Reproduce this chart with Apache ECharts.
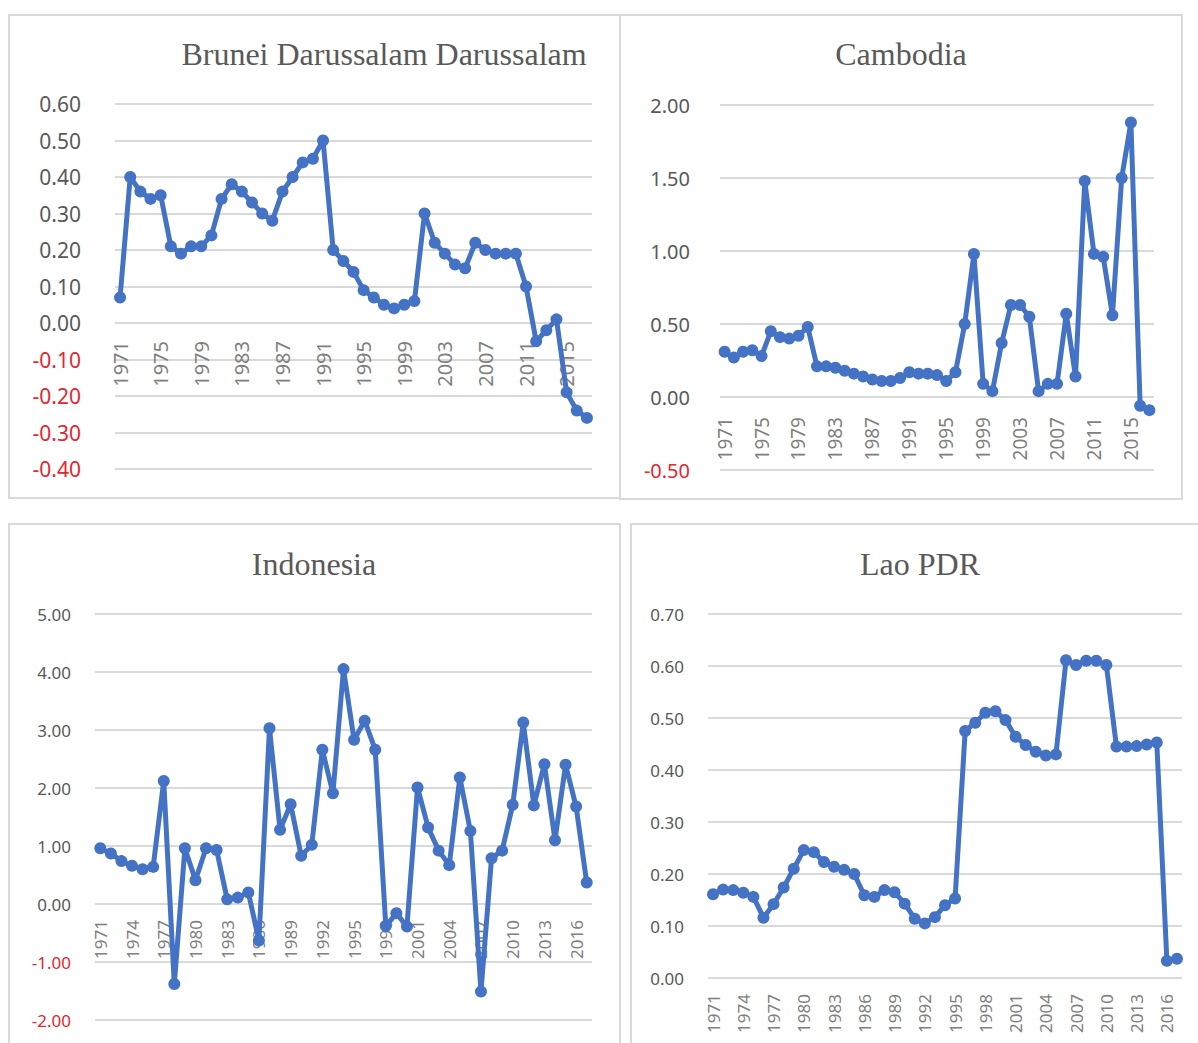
<!DOCTYPE html>
<html>
<head>
<meta charset="utf-8">
<script src="https://cdn.jsdelivr.net/npm/echarts@6/dist/echarts.min.js"></script>
<style>
html,body{margin:0;padding:0;background:#fff;}
#c{width:1198px;height:1043px;}
</style>
</head>
<body>
<div id="c"></div>
<script>
// ---- data ----
const years = ['1971','1972','1973','1974','1975','1976','1977','1978','1979','1980',
  '1981','1982','1983','1984','1985','1986','1987','1988','1989','1990',
  '1991','1992','1993','1994','1995','1996','1997','1998','1999','2000',
  '2001','2002','2003','2004','2005','2006','2007','2008','2009','2010',
  '2011','2012','2013','2014','2015','2016','2017'];

const titles = ['Brunei Darussalam Darussalam', 'Cambodia', 'Indonesia', 'Lao PDR'];

const brunei = [0.07,0.40,0.36,0.34,0.35,0.21,0.19,0.21,0.21,0.24,
  0.34,0.38,0.36,0.33,0.30,0.28,0.36,0.40,0.44,0.45,
  0.50,0.20,0.17,0.14,0.09,0.07,0.05,0.04,0.05,0.06,
  0.30,0.22,0.19,0.16,0.15,0.22,0.20,0.19,0.19,0.19,
  0.10,-0.05,-0.02,0.01,-0.19,-0.24,-0.26];

const cambodia = [0.31,0.27,0.31,0.32,0.28,0.45,0.41,0.40,0.42,0.48,
  0.21,0.21,0.20,0.18,0.16,0.14,0.12,0.11,0.11,0.13,
  0.17,0.16,0.16,0.15,0.11,0.17,0.50,0.98,0.09,0.04,
  0.37,0.63,0.63,0.55,0.04,0.09,0.09,0.57,0.14,1.48,
  0.98,0.96,0.56,1.50,1.88,-0.06,-0.09];

const indonesia = [0.96,0.87,0.74,0.66,0.60,0.64,2.12,-1.38,0.96,0.41,
  0.96,0.93,0.08,0.11,0.20,-0.63,3.03,1.28,1.72,0.83,
  1.02,2.66,1.91,4.05,2.83,3.16,2.66,-0.38,-0.16,-0.39,
  2.01,1.32,0.92,0.67,2.18,1.26,-1.51,0.79,0.92,1.71,
  3.13,1.70,2.41,1.10,2.40,1.68,0.37];

const lao = [0.161,0.170,0.169,0.164,0.156,0.116,0.142,0.174,0.210,0.246,
  0.242,0.223,0.214,0.208,0.200,0.159,0.156,0.169,0.165,0.143,
  0.114,0.105,0.117,0.140,0.153,0.475,0.491,0.510,0.513,0.496,
  0.464,0.448,0.435,0.428,0.430,0.611,0.602,0.610,0.610,0.602,
  0.445,0.445,0.446,0.449,0.453,0.033,0.037];

const yMin = [-0.4, -0.5, -2, 0];
const yMax = [0.6, 2, 5, 0.7];
const yStep = [0.1, 0.5, 1, 0.1];
const labelEvery = [3, 3, 2, 2];

// ---- layout ----
const seriesData = [brunei, cambodia, indonesia, lao];
const grids = [
  {left: 115, top: 104, width: 477, height: 365},
  {left: 720, top: 105, width: 434, height: 365},
  {left: 95, top: 614, width: 497, height: 406},
  {left: 708, top: 614, width: 474, height: 364}
];
// label grids end where the value 0 lies, so the year labels sit under the zero line
const labelGrids = grids.map((g, i) => ({
  left: g.left, width: g.width, top: g.top,
  height: g.height * yMax[i] / (yMax[i] - yMin[i])
}));
const titlePos = [[384, 38], [901, 38], [314, 548], [920, 548]];
const yFont = [21, 20, 17, 17];
const xFont = [20, 19, 17, 17];
const yMargin = [34, 30, 24, 24];
const xMargin = [18, 20, 16, 16];

const BLUE = '#4472C4';
const GRIDC = '#d9d9d9';
const allGrids = grids.concat(labelGrids);

const option = {
  animation: false,
  backgroundColor: '#ffffff',
  title: titles.map((t, i) => ({
    text: t, left: titlePos[i][0], top: titlePos[i][1], textAlign: 'center', padding: 0,
    textStyle: {fontFamily: 'Liberation Serif', fontSize: 32, fontWeight: 'normal', color: '#595959'}
  })),
  graphic: [
    {type: 'rect', shape: {x: 9, y: 15, width: 611, height: 483}, style: {fill: 'none', stroke: GRIDC, lineWidth: 2}, silent: true},
    {type: 'rect', shape: {x: 620, y: 15, width: 562, height: 484}, style: {fill: 'none', stroke: GRIDC, lineWidth: 2}, silent: true},
    {type: 'rect', shape: {x: 9, y: 524, width: 611, height: 540}, style: {fill: 'none', stroke: GRIDC, lineWidth: 2}, silent: true},
    {type: 'rect', shape: {x: 631, y: 524, width: 580, height: 540}, style: {fill: 'none', stroke: GRIDC, lineWidth: 2}, silent: true}
  ],
  grid: allGrids.map(g => Object.assign({containLabel: false, outerBoundsMode: 'none'}, g)),
  xAxis: grids.map((g, i) => ({
    type: 'category', gridIndex: i, data: years, boundaryGap: true,
    axisLine: {show: false}, axisTick: {show: false}, splitLine: {show: false},
    axisLabel: {show: false}
  })).concat(labelGrids.map((g, i) => ({
    type: 'category', gridIndex: i + 4, data: years, boundaryGap: true,
    axisLine: {show: false}, axisTick: {show: false}, splitLine: {show: false},
    axisLabel: {
      interval: labelEvery[i], rotate: 90, margin: xMargin[i],
      fontFamily: 'Noto Sans', fontSize: xFont[i], color: '#7f7f7f'
    }
  }))),
  yAxis: grids.map((g, i) => ({
    type: 'value', gridIndex: i, min: yMin[i], max: yMax[i], interval: yStep[i],
    axisLine: {show: false}, axisTick: {show: false},
    splitLine: {show: true, lineStyle: {color: GRIDC, width: 2}},
    axisLabel: {
      margin: yMargin[i], fontFamily: 'Noto Sans', fontSize: yFont[i],
      formatter: v => Number(v).toFixed(2),
      color: v => (Number(v) < -1e-9 ? '#e3262f' : '#595959')
    }
  })).concat(labelGrids.map((g, i) => ({
    type: 'value', gridIndex: i + 4, min: 0, max: 1, show: false
  }))),
  series: seriesData.map((d, i) => ({
    type: 'line', xAxisIndex: i, yAxisIndex: i, data: d,
    symbol: 'circle', symbolSize: 12, showSymbol: true, showAllSymbol: true,
    lineStyle: {color: BLUE, width: 5},
    itemStyle: {color: BLUE},
    emphasis: {disabled: true}
  }))
};

const chart = echarts.init(document.getElementById('c'), null, {renderer: 'svg'});
chart.setOption(option);
</script>
</body>
</html>
